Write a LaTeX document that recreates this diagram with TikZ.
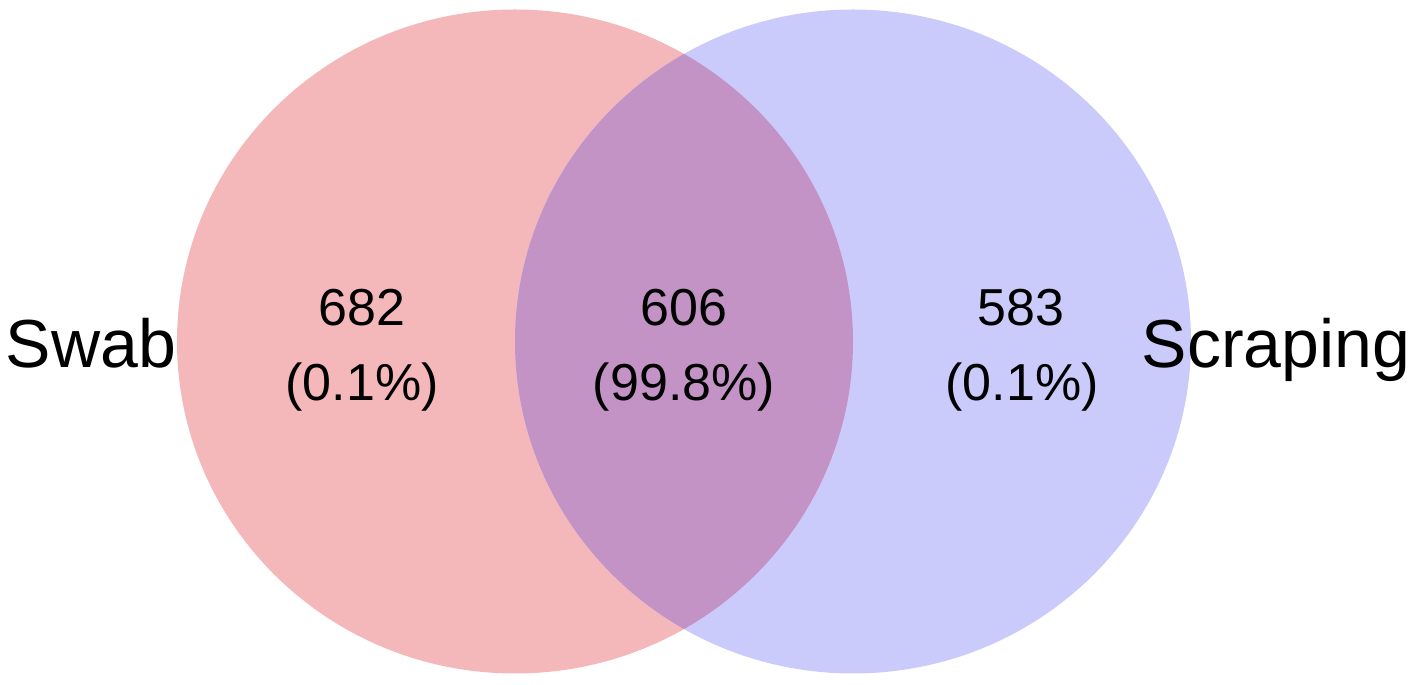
\documentclass[tikz,border=0pt]{standalone}
\usepackage{fontspec}
\setmainfont{Liberation Sans}
\definecolor{swabfill}{HTML}{F4B8BA}
\definecolor{scrapefill}{HTML}{CBCBFB}
\definecolor{bothfill}{HTML}{C393C6}
\begin{document}
\begin{tikzpicture}[x=1pt,y=1pt,
  setlabel/.style={anchor=base,inner sep=0pt,font=\fontsize{68}{72}\selectfont},
  countlabel/.style={anchor=base,inner sep=0pt,font=\fontsize{52}{56}\selectfont}]
\useasboundingbox (0,0) rectangle (1417,685);
\fill[swabfill] (515,343.5) ellipse [x radius=338, y radius=332];
\fill[scrapefill] (853,343.5) ellipse [x radius=338, y radius=332];
\begin{scope}
  \clip (515,343.5) ellipse [x radius=338, y radius=332];
  \fill[bothfill] (853,343.5) ellipse [x radius=338, y radius=332];
\end{scope}
\node[setlabel] (swab) at (91,317) {Swab};
\node[setlabel] (scraping) at (1276,317) {Scraping};
\node[countlabel] (aonly) at (362,359) {682};
\node[countlabel] (aonlyp) at (362,284) {(0.1\%)};
\node[countlabel] (ab) at (684,359) {606};
\node[countlabel] (abp) at (684,284) {(99.8\%)};
\node[countlabel] (bonly) at (1021,359) {583};
\node[countlabel] (bonlyp) at (1022,284) {(0.1\%)};
\end{tikzpicture}
\end{document}
